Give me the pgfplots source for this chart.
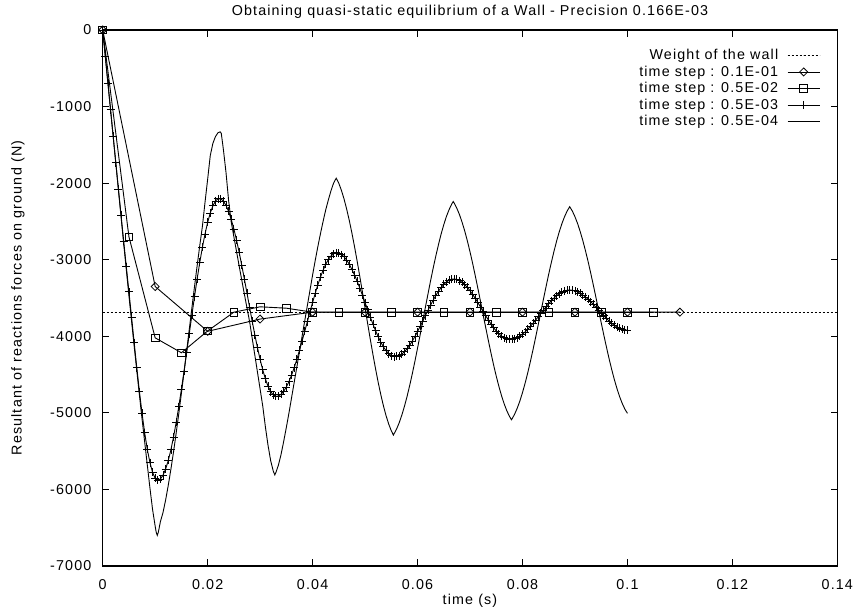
\documentclass[border=0pt]{standalone}
\usepackage{fontspec}
\setmainfont{Liberation Sans}[LetterSpace=8]
\usepackage{pgfplots}
\pgfplotsset{compat=1.18}
\begin{document}
\fontsize{14.3}{17}\selectfont
\begin{tikzpicture}
\begin{axis}[
  at={(0,0)}, anchor=south west,
  scale only axis, width=734.6pt, height=536pt,
  xmin=0, xmax=0.14, ymin=-7000, ymax=0,
  xtick={0,0.02,0.04,0.06,0.08,0.1,0.12,0.14},
  xticklabels={0,0.02,0.04,0.06,0.08,0.1,0.12,0.14},
  ytick={-7000,-6000,-5000,-4000,-3000,-2000,-1000,0},
  yticklabels={-7000,-6000,-5000,-4000,-3000,-2000,-1000,0},
  scaled ticks=false,
  tick align=inside, xtick pos=both, ytick pos=both,
  major tick length=6.7pt,
  tick style={line width=0.9pt, black},
  axis line style={line width=1.6pt},
  yticklabel style={xshift=-6.4pt},
  xticklabel style={yshift=-9pt},
  title={Obtaining quasi-static equilibrium of a Wall - Precision 0.166E-03},
  every axis title/.style={at={(axis description cs:0.5,1.0336)}, anchor=center},
  xlabel={time (s)},
  every axis x label/.style={at={(axis description cs:0.5,-0.0653)}, anchor=center},
  ylabel={Resultant of reactions forces on ground (N)},
  every axis y label/.style={at={(axis description cs:-0.1153,0.5)}, rotate=90, anchor=center},
  legend style={draw=none, fill=none, at={(axis description cs:1,1)}, anchor=north east, xshift=-14pt, yshift=-15pt, row sep=0pt, column sep=7pt},
  legend cell align=right,
  legend plot pos=right,
  legend image code/.code={\draw[mark repeat=2,mark phase=2,#1] plot coordinates {(0pt,0pt) (16pt,0pt) (32pt,0pt)};},
  every axis plot/.append style={line width=0.9pt, black},
]
\addplot[dash pattern=on 2pt off 2pt, no marks] coordinates {(0,-3685) (0.14,-3685)};
\addlegendentry{Weight of the wall}
\addplot[mark=square, mark size=2.83pt, mark options={rotate=45, solid, line width=0.8pt}] coordinates {
(0,0) (0.01,-3350) (0.02,-3935) (0.03,-3775) (0.04,-3685) (0.05,-3685) (0.06,-3685) (0.07,-3685) (0.08,-3685) (0.09,-3685) (0.1,-3685) (0.11,-3685)};
\addlegendentry{time step : 0.1E-01}
\addplot[mark=square, mark size=3.8pt, mark options={solid, line width=0.8pt}] coordinates {
(0,0) (0.005,-2700) (0.01,-4020) (0.015,-4215) (0.02,-3930) (0.025,-3685) (0.03,-3615) (0.035,-3633) (0.04,-3685) (0.045,-3687) (0.05,-3687) (0.055,-3687) (0.06,-3687) (0.065,-3687) (0.07,-3687) (0.075,-3687) (0.08,-3687) (0.085,-3687) (0.09,-3687) (0.095,-3687) (0.1,-3687) (0.105,-3687)};
\addlegendentry{time step : 0.5E-02}
\addplot[mark=+, mark size=4pt, mark options={solid, line width=0.8pt}] coordinates {
(0,0) (0.0005,-345) (0.001,-695) (0.0015,-1040) (0.002,-1390) (0.0025,-1735) (0.003,-2080) (0.0035,-2420) (0.004,-2760) (0.0045,-3090)
(0.005,-3420) (0.0055,-3748) (0.006,-4084) (0.0065,-4411) (0.007,-4721) (0.0075,-5006) (0.008,-5260) (0.0085,-5476) (0.009,-5649) (0.0095,-5776)
(0.01,-5854) (0.0105,-5880) (0.011,-5863) (0.0115,-5814) (0.012,-5733) (0.0125,-5621) (0.013,-5481) (0.0135,-5315) (0.014,-5125) (0.0145,-4917)
(0.015,-4693) (0.0155,-4457) (0.016,-4213) (0.0165,-3966) (0.017,-3721) (0.0175,-3481) (0.018,-3251) (0.0185,-3035) (0.019,-2838) (0.0195,-2663)
(0.02,-2513) (0.0205,-2390) (0.021,-2296) (0.0215,-2232) (0.022,-2204) (0.0225,-2205) (0.023,-2234) (0.0235,-2290) (0.024,-2370) (0.0245,-2474)
(0.025,-2598) (0.0255,-2742) (0.026,-2901) (0.0265,-3072) (0.027,-3252) (0.0275,-3437) (0.028,-3623) (0.0285,-3806) (0.029,-3984) (0.0295,-4150)
(0.03,-4302) (0.0305,-4438) (0.031,-4555) (0.0315,-4651) (0.032,-4721) (0.0325,-4765) (0.033,-4784) (0.0335,-4779) (0.034,-4757) (0.0345,-4717)
(0.035,-4662) (0.0355,-4591) (0.036,-4506) (0.0365,-4408) (0.037,-4301) (0.0375,-4185) (0.038,-4063) (0.0385,-3937) (0.039,-3809) (0.0395,-3682)
(0.04,-3558) (0.0405,-3439) (0.041,-3329) (0.0415,-3227) (0.042,-3138) (0.0425,-3061) (0.043,-2998) (0.0435,-2952) (0.044,-2923) (0.0445,-2910)
(0.045,-2914) (0.0455,-2932) (0.046,-2962) (0.0465,-3006) (0.047,-3060) (0.0475,-3126) (0.048,-3200) (0.0485,-3283) (0.049,-3371) (0.0495,-3463)
(0.05,-3559) (0.0505,-3655) (0.051,-3749) (0.0515,-3840) (0.052,-3926) (0.0525,-4005) (0.053,-4077) (0.0535,-4138) (0.054,-4188) (0.0545,-4227)
(0.055,-4252) (0.0555,-4264) (0.056,-4263) (0.0565,-4252) (0.057,-4232) (0.0575,-4202) (0.058,-4163) (0.0585,-4117) (0.059,-4063) (0.0595,-4003)
(0.06,-3939) (0.0605,-3871) (0.061,-3801) (0.0615,-3730) (0.062,-3660) (0.0625,-3591) (0.063,-3526) (0.0635,-3465) (0.064,-3411) (0.0645,-3363)
(0.065,-3323) (0.0655,-3291) (0.066,-3268) (0.0665,-3254) (0.067,-3252) (0.0675,-3258) (0.068,-3272) (0.0685,-3295) (0.069,-3325) (0.0695,-3361)
(0.07,-3404) (0.0705,-3452) (0.071,-3505) (0.0715,-3560) (0.072,-3617) (0.0725,-3675) (0.073,-3732) (0.0735,-3787) (0.074,-3840) (0.0745,-3888)
(0.075,-3931) (0.0755,-3967) (0.076,-3997) (0.0765,-4020) (0.077,-4034) (0.0775,-4040) (0.078,-4038) (0.0785,-4030) (0.079,-4016) (0.0795,-3997)
(0.08,-3972) (0.0805,-3943) (0.081,-3909) (0.0815,-3871) (0.082,-3831) (0.0825,-3788) (0.083,-3745) (0.0835,-3700) (0.084,-3656) (0.0845,-3613)
(0.085,-3573) (0.0855,-3535) (0.086,-3500) (0.0865,-3470) (0.087,-3444) (0.0875,-3423) (0.088,-3408) (0.0885,-3399) (0.089,-3396) (0.0895,-3399)
(0.09,-3407) (0.0905,-3420) (0.091,-3438) (0.0915,-3460) (0.092,-3486) (0.0925,-3516) (0.093,-3549) (0.0935,-3584) (0.094,-3621) (0.0945,-3658)
(0.095,-3695) (0.0955,-3732) (0.096,-3767) (0.0965,-3800) (0.097,-3830) (0.0975,-3856) (0.098,-3878) (0.0985,-3896) (0.099,-3909) (0.0995,-3917)
(0.1,-3920)};
\addlegendentry{time step : 0.5E-03}
\addplot[no marks] coordinates {
(0,0) (0.0005,-350) (0.001,-700) (0.0015,-1045) (0.002,-1395) (0.0025,-1740) (0.003,-2090) (0.0035,-2440) (0.004,-2790) (0.0045,-3130)
(0.005,-3470) (0.0055,-3800) (0.006,-4130) (0.0065,-4450) (0.007,-4770) (0.0075,-5080) (0.008,-5380) (0.0085,-5680) (0.009,-5980) (0.0095,-6260)
(0.01,-6480) (0.0102,-6560) (0.0104,-6600) (0.0106,-6560) (0.0108,-6490) (0.011,-6420) (0.0115,-6300) (0.012,-6135) (0.0125,-5945) (0.013,-5735)
(0.0135,-5509) (0.014,-5266) (0.0145,-5011) (0.015,-4745) (0.0155,-4470) (0.016,-4191) (0.0165,-3909) (0.017,-3627) (0.0175,-3349) (0.018,-3078)
(0.0185,-2815) (0.019,-2565) (0.0195,-2250) (0.02,-1950) (0.0205,-1640) (0.021,-1480) (0.0215,-1390) (0.022,-1340) (0.0224,-1330) (0.0226,-1350)
(0.023,-1560) (0.0235,-1860) (0.024,-2230) (0.0245,-2510) (0.025,-2700) (0.0255,-2890) (0.026,-3080) (0.0265,-3265) (0.027,-3450) (0.0275,-3630)
(0.028,-3810) (0.0285,-4030) (0.029,-4250) (0.0295,-4470) (0.03,-4690) (0.0305,-4910) (0.031,-5180) (0.0315,-5420) (0.032,-5620) (0.0325,-5760)
(0.0328,-5810) (0.033,-5780) (0.0335,-5680) (0.034,-5540) (0.0345,-5370) (0.035,-5190) (0.0355,-5000) (0.036,-4800) (0.0365,-4600) (0.037,-4400)
(0.0375,-4200) (0.038,-4000) (0.0385,-3800) (0.039,-3600) (0.0395,-3400) (0.04,-3200) (0.0405,-3010) (0.041,-2830) (0.0415,-2660) (0.042,-2500)
(0.0425,-2350) (0.043,-2220) (0.0435,-2100) (0.044,-2000) (0.0445,-1935) (0.045,-2002) (0.0455,-2095) (0.046,-2208) (0.0465,-2340) (0.047,-2489)
(0.0475,-2654) (0.048,-2832) (0.0485,-3021) (0.049,-3220) (0.0495,-3424) (0.05,-3631) (0.0505,-3837) (0.051,-4040) (0.0515,-4237) (0.052,-4424)
(0.0525,-4601) (0.053,-4762) (0.0535,-4908) (0.054,-5036) (0.0545,-5145) (0.055,-5234) (0.0554,-5290) (0.056,-5213) (0.0565,-5130) (0.057,-5031)
(0.0575,-4916) (0.058,-4787) (0.0585,-4644) (0.059,-4490) (0.0595,-4327) (0.06,-4156) (0.0605,-3980) (0.061,-3801) (0.0615,-3621) (0.062,-3444)
(0.0625,-3270) (0.063,-3104) (0.0635,-2947) (0.064,-2801) (0.0645,-2664) (0.065,-2543) (0.0655,-2436) (0.066,-2348) (0.0665,-2275) (0.0668,-2240)
(0.067,-2262) (0.0675,-2329) (0.068,-2412) (0.0685,-2512) (0.069,-2626) (0.0695,-2755) (0.07,-2896) (0.0705,-3047) (0.071,-3208) (0.0715,-3374)
(0.072,-3544) (0.0725,-3717) (0.073,-3888) (0.0735,-4056) (0.074,-4219) (0.0745,-4375) (0.075,-4520) (0.0755,-4653) (0.076,-4774) (0.0765,-4880)
(0.077,-4970) (0.0775,-5043) (0.0779,-5090) (0.078,-5080) (0.0785,-5018) (0.079,-4939) (0.0795,-4846) (0.08,-4736) (0.0805,-4613) (0.081,-4478)
(0.0815,-4332) (0.082,-4178) (0.0825,-4016) (0.083,-3850) (0.0835,-3682) (0.084,-3514) (0.0845,-3349) (0.085,-3188) (0.0855,-3036) (0.086,-2892)
(0.0865,-2758) (0.087,-2638) (0.0875,-2532) (0.088,-2441) (0.0885,-2366) (0.089,-2307) (0.0895,-2364) (0.09,-2438) (0.0905,-2527) (0.091,-2632)
(0.0915,-2750) (0.092,-2881) (0.0925,-3022) (0.093,-3173) (0.0935,-3330) (0.094,-3492) (0.0945,-3657) (0.095,-3821) (0.0955,-3983) (0.096,-4140)
(0.0965,-4291) (0.097,-4432) (0.0975,-4563) (0.098,-4681) (0.0985,-4786) (0.099,-4875) (0.0995,-4949) (0.1,-5006)};
\addlegendentry{time step : 0.5E-04}
\end{axis}
\pgfresetboundingbox
\path[use as bounding box] (-102.7pt,-48pt) rectangle (750.3pt,566pt);
\end{tikzpicture}
\end{document}
